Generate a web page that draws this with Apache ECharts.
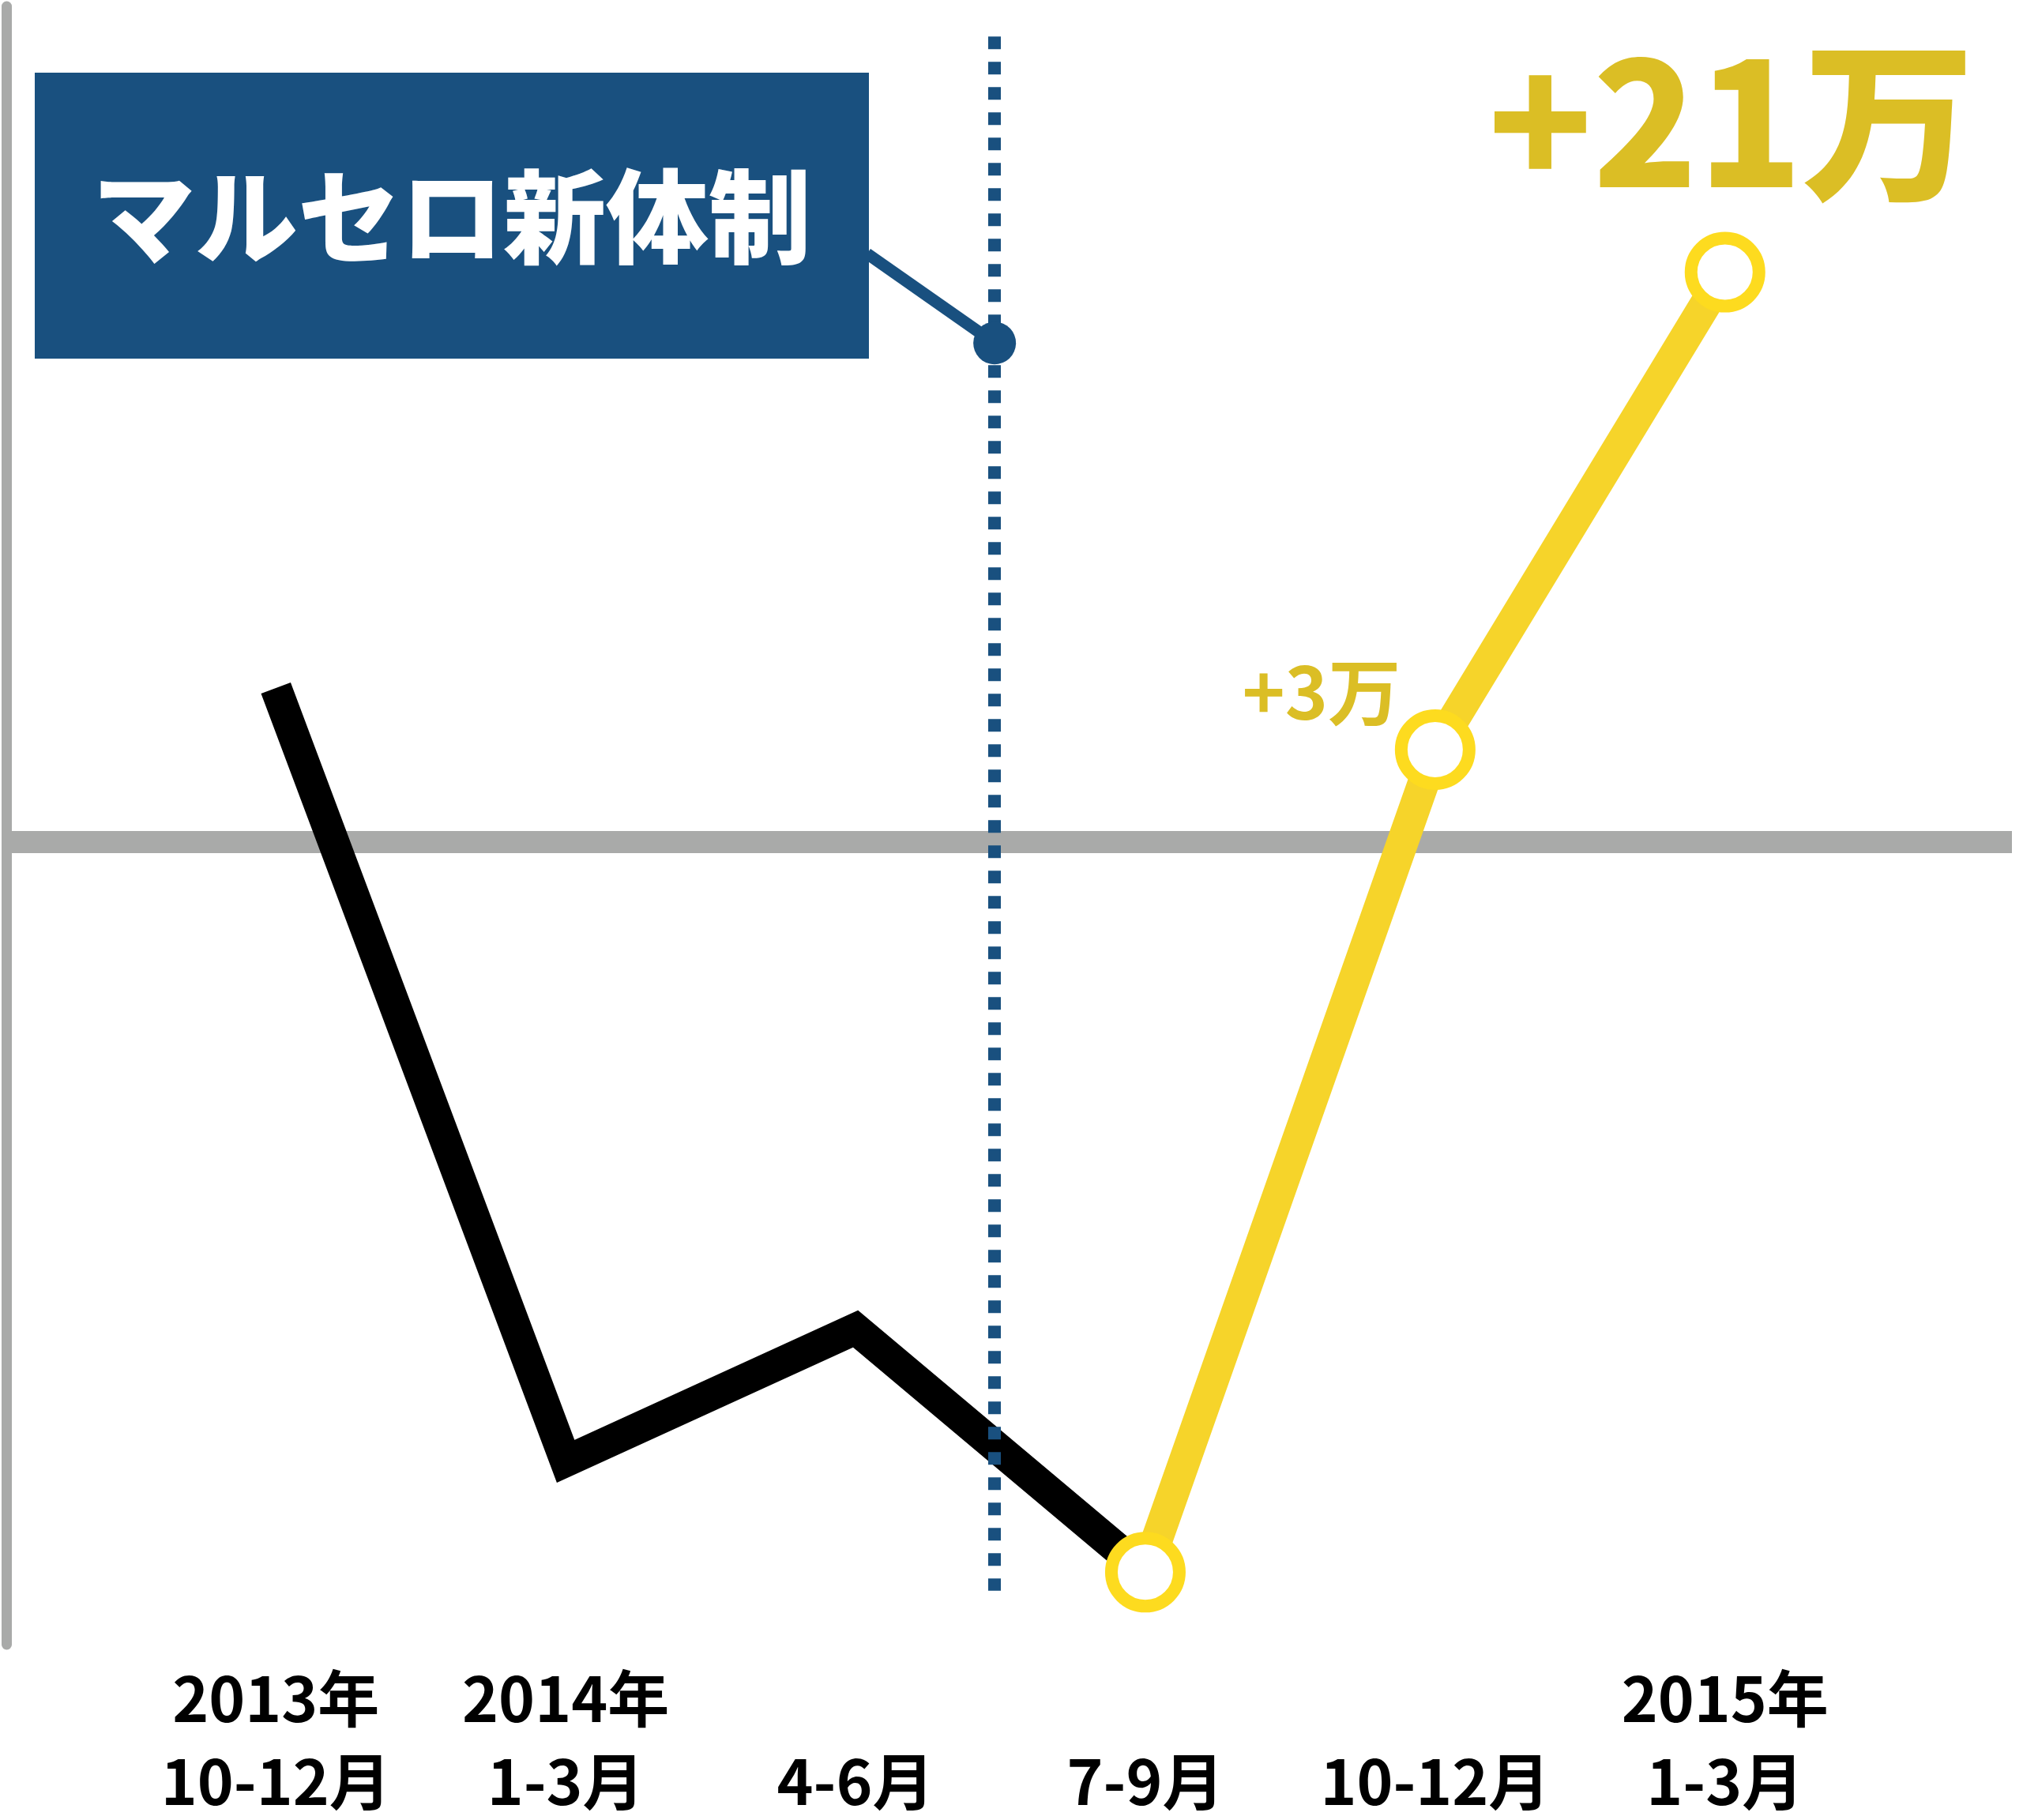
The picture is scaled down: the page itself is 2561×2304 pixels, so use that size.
<!DOCTYPE html>
<html>
<head>
<meta charset="utf-8">
<script src="https://cdn.jsdelivr.net/npm/echarts@6/dist/echarts.min.js"></script>
<style>
  html, body { margin: 0; padding: 0; background: #fff; }
  #chart { width: 2561px; height: 2304px; }
</style>
</head>
<body>
<div id="chart"></div>
<script>
// 四半期ラベル
const years = ['2013年', '2014年', '', '', '', '2015年']
const quarters = ['10-12月', '1-3月', '4-6月', '7-9月', '10-12月', '1-3月']
// 増減（万）
const changeValues = [5.0, -20.1, -15.8, -23.7, 3.0, 18.5]
const pointLabels = ['', '', '', '', '+3万', '+21万']
// 新体制が始まった位置（四半期インデックス）
const newRegimeX = 2.48
const newRegimeStart = 3
const boxTitle = 'マルセロ新体制'

const FONT = '"Noto Sans CJK JP", "Noto Sans", sans-serif'
const GOLD = '#dbbe25'
const BLUE = '#19507f'
const GRAY = '#a9aaa9'

const blackData = changeValues.slice(0, newRegimeStart + 1).map((v, i) => [i, v])
const yellowData = changeValues.map((v, i) => {
  if (i < newRegimeStart) return null
  const item = { value: [i, v] }
  if (pointLabels[i]) {
    const big = i === changeValues.length - 1
    item.label = {
      show: true,
      formatter: pointLabels[i],
      position: 'inside',
      offset: big ? [8, -190] : [-144, -73],
      color: GOLD,
      fontFamily: FONT,
      fontWeight: big ? 900 : 'bold',
      fontSize: big ? 218 : 92
    }
  }
  return item
}).filter(d => d)

const chart = echarts.init(document.getElementById('chart'))

const option = {
  animation: false,
  backgroundColor: '#fff',
  grid: { left: 8, top: 8, width: 2539, height: 2074 },
  xAxis: {
    type: 'value',
    min: -0.93,
    max: 5.99,
    axisLine: { show: false },
    axisTick: { show: false },
    splitLine: { show: false },
    axisLabel: {
      customValues: [0, 1, 2, 3, 4, 5],
      margin: 16,
      formatter: v => '{y|' + (years[v] || ' ') + '}\n{m|' + quarters[v] + '}',
      rich: {
        y: { fontFamily: FONT, fontWeight: 'bold', fontSize: 78, lineHeight: 105, color: '#000' },
        m: { fontFamily: FONT, fontWeight: 'bold', fontSize: 78, lineHeight: 105, color: '#000' }
      }
    }
  },
  yAxis: {
    type: 'value',
    min: -26.05,
    max: 27.13,
    axisLine: { show: true, onZero: false, lineStyle: { color: GRAY, width: 13 } },
    axisTick: { show: false },
    axisLabel: { show: false },
    splitLine: { show: false }
  },
  graphic: [
    {
      type: 'rect',
      z: 100,
      shape: { x: 44, y: 92, width: 1056, height: 362 },
      style: { fill: BLUE }
    },
    {
      type: 'text',
      z: 101,
      x: 572,
      y: 274,
      style: {
        text: boxTitle,
        fill: '#fff',
        font: '900 130px ' + FONT,
        textAlign: 'center',
        textVerticalAlign: 'middle'
      }
    }
  ],
  series: [
    {
      type: 'line',
      z: 3,
      data: blackData,
      symbol: 'none',
      lineStyle: { color: '#000', width: 40, join: 'miter', cap: 'butt' },
      markLine: {
        z: 1,
        silent: true,
        symbol: 'none',
        label: { show: false },
        lineStyle: { color: GRAY, width: 28, type: 'solid' },
        data: [{ yAxis: 0 }]
      }
    },
    {
      type: 'line',
      z: 4,
      data: yellowData,
      symbol: 'circle',
      symbolSize: 86,
      showAllSymbol: true,
      lineStyle: { color: '#f6d42a', width: 40, join: 'miter', cap: 'butt' },
      itemStyle: { color: '#fff', borderColor: '#fddb1f', borderWidth: 16 },
      markLine: {
        z: 10,
        silent: true,
        label: { show: false },
        data: [
          [
            { coord: [newRegimeX, 26.15], symbol: 'none', lineStyle: { color: BLUE, width: 16, type: [16, 16], cap: 'butt' } },
            { coord: [newRegimeX, -24.3], symbol: 'none' }
          ],
          [
            { coord: [newRegimeX, 16.2], symbol: 'circle', symbolSize: 54, lineStyle: { color: BLUE, width: 15, type: 'solid' }, itemStyle: { color: BLUE } },
            { coord: [2.04, 19.1], symbol: 'none' }
          ]
        ]
      }
    }
  ]
}

chart.setOption(option)
</script>
</body>
</html>
